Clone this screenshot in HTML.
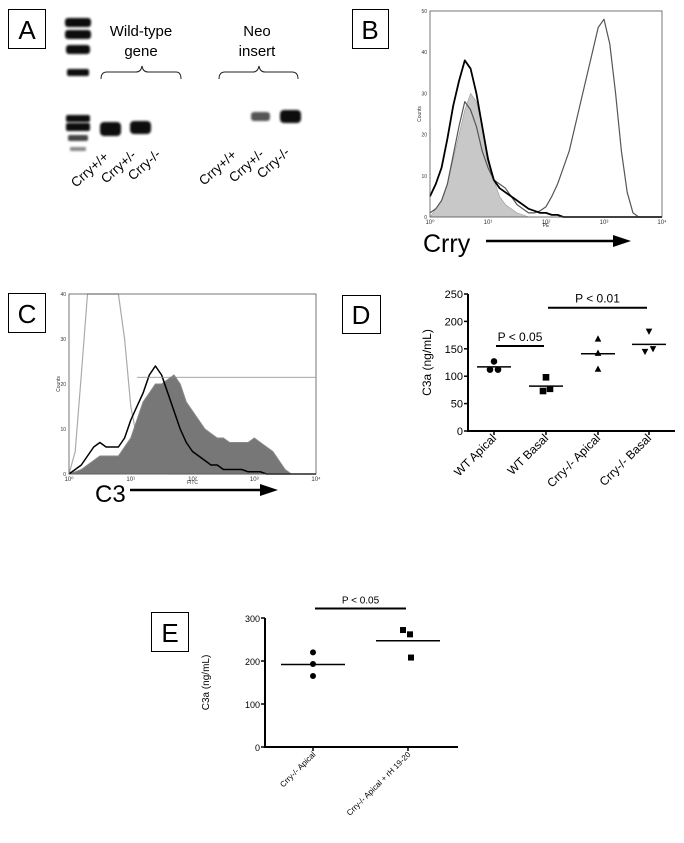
<!DOCTYPE html>
<html><head><meta charset="utf-8"><style>html,body{margin:0;padding:0;background:#fff}svg{display:block}text{font-family:"Liberation Sans",Arial,sans-serif}</style></head>
<body>
<svg id="fig" width="684" height="843" viewBox="0 0 684 843" xmlns="http://www.w3.org/2000/svg">
<defs><filter id="blur" x="-50%" y="-50%" width="200%" height="200%"><feGaussianBlur stdDeviation="1.1"/></filter></defs>
<!-- Panel A -->
<g>
<rect x="8.5" y="9.5" width="37" height="39" fill="#fff" stroke="#000"/>
<text x="27" y="39" font-size="26" text-anchor="middle">A</text>
<g filter="url(#blur)" fill="#111">
<rect x="65" y="18" width="26" height="9" rx="3"/><rect x="65" y="30" width="26" height="9" rx="3"/><rect x="66" y="45" width="24" height="9" rx="3"/><rect x="67" y="69" width="22" height="7" rx="2"/>
<rect x="66" y="115" width="24" height="7" rx="2"/><rect x="66" y="123" width="24" height="8" rx="2"/><rect x="68" y="135" width="20" height="6" rx="2" fill="#444"/><rect x="70" y="147" width="16" height="4" rx="1" fill="#888"/>
<rect x="100" y="122" width="21" height="14" rx="4"/><rect x="130" y="121" width="21" height="13" rx="4"/>
<rect x="251" y="112" width="19" height="9" rx="3" fill="#555"/><rect x="280" y="110" width="21" height="13" rx="4"/>
</g>
<text x="141" y="36" font-size="15" text-anchor="middle">Wild-type</text>
<text x="141" y="56" font-size="15" text-anchor="middle">gene</text>
<text x="257" y="36" font-size="15" text-anchor="middle">Neo</text>
<text x="257" y="56" font-size="15" text-anchor="middle">insert</text>
<path d="M101,79 Q101,72 107,72 L136,72 Q141,72 142,66 Q143,72 148,72 L176,72 Q181,72 181,79" fill="none" stroke="#222"/>
<path d="M219,79 Q219,72 225,72 L253,72 Q258,72 259,66 Q260,72 265,72 L292,72 Q298,72 298,79" fill="none" stroke="#222"/>
<g font-size="13.5">
<text transform="translate(76,188) rotate(-42)">Crry+/+</text>
<text transform="translate(106,184) rotate(-42)">Crry+/-</text>
<text transform="translate(133,181) rotate(-42)">Crry-/-</text>
<text transform="translate(204,186) rotate(-42)">Crry+/+</text>
<text transform="translate(234,183) rotate(-42)">Crry+/-</text>
<text transform="translate(262,179) rotate(-42)">Crry-/-</text>
</g>
</g>
<!-- Panel B -->
<g>
<rect x="352.5" y="9.5" width="36" height="39" fill="#fff" stroke="#000"/>
<text x="370" y="39" font-size="26" text-anchor="middle">B</text>
<g id="histB"></g>
<text x="423" y="252" font-size="25">Crry</text>
<line x1="486" y1="241" x2="615" y2="241" stroke="#000" stroke-width="2.5"/>
<polygon points="613,235 631,241 613,247" fill="#000"/>
</g>
<!-- Panel C -->
<g>
<rect x="8.5" y="293.5" width="37" height="39" fill="#fff" stroke="#000"/>
<text x="27" y="323" font-size="26" text-anchor="middle">C</text>
<g id="histC"></g>
<text x="95" y="502" font-size="24">C3</text>
<line x1="130" y1="490" x2="262" y2="490" stroke="#000" stroke-width="2.5"/>
<polygon points="260,484 278,490 260,496" fill="#000"/>
</g>
<!-- Panel D -->
<g>
<rect x="342.5" y="295.5" width="38" height="38" fill="#fff" stroke="#000"/>
<text x="361" y="324" font-size="26" text-anchor="middle">D</text>
<g id="chartD"></g>
</g>
<!-- Panel E -->
<g>
<rect x="151.5" y="612.5" width="37" height="39" fill="#fff" stroke="#000"/>
<text x="170" y="642" font-size="26" text-anchor="middle">E</text>
<g id="chartE"></g>
</g>
</svg>
<script>
var NS="http://www.w3.org/2000/svg";
// ---- Panel B data (log10 decade step 0.1 from 0 to 4; counts) ----
var bIsotype=[0,2,4,8,14,20,26,30,28,22,15,9,5,3,2,1,0.5,0,0,0,0,0,0,0,0,0,0,0,0,0,0,0,0,0,0,0,0,0,0,0,0];
var bBlack=[5,8,12,19,27,33,38,36,30,22,14,9,7,6,5,4,3,2,1.5,1,1,0.5,0.5,0,0,0,0,0,0,0,0,0,0,0,0,0,0,0,0,0,0];
var bStained=[1,2,4,8,15,22,28,26,22,16,12,9,8,7,5,3,2,1,1,1.5,2.5,5,8,12,16,22,28,34,40,46,48,42,30,16,6,1,0,0,0,0,0];
var bYTicks=[0,10,20,30,40,50];
var bXTicks=["10⁰","10¹","10²","10³","10⁴"];
// ---- Panel C data ----
var cControl=[0,5,22,40,40,40,40,40,40,30,15,8,5,3,2,1,0,0,0,0,0,0,0,0,0,0,0,0,0,0,0,0,0,0,0,0,0,0,0,0,0];
var cBlack=[0,1,2,4,6,7,6,6,6,8,12,15,18,22,24,22,18,14,10,7,5,4,3,2,2,1,1,1,1,0.5,0.5,0.5,0,0,0,0,0,0,0,0,0];
var cStained=[0,0.5,1,2,3,4,4,4,4,6,8,12,16,18,20,20,21,22,20,16,14,12,10,9,8,8,7,7,7,7,8,7,6,5,3,1,0,0,0,0,0];
var cYTicks=[0,10,20,30,40];
var cXTicks=["10⁰","10¹","10²","10³","10⁴"];
var cGateLevel=21.5;
// ---- Panel D data ----
var dCategories=["WT Apical","WT Basal","Crry-/- Apical","Crry-/- Basal"];
var dValues=[[127,112,112],[98,73,77],[168,142,113],[182,145,150]];
var dMeans=[117,82,141,158];
var dMarkers=["circle","square","triangle","triangle-down"];
var dYTicks=[0,50,100,150,200,250];
// ---- Panel E data ----
var eCategories=["Crry-/- Apical","Crry-/- Apical + rH 19-20"];
var eValues=[[220,193,165],[272,262,208]];
var eMeans=[192,247];
var eMarkers=["circle","square"];
var eYTicks=[0,100,200,300];

function el(tag,attrs,parent){var e=document.createElementNS(NS,tag);for(var k in attrs)e.setAttribute(k,attrs[k]);if(parent)parent.appendChild(e);return e;}

function histogram(g,cfg){
  var sx=function(l){return cfg.x0+l*(cfg.x1-cfg.x0)/4;};
  var sy=function(c){return cfg.y0-Math.min(c,cfg.ymax)*(cfg.y0-cfg.y1)/cfg.ymax;};
  cfg.series.forEach(function(s){
    var pts=[];
    for(var i=0;i<s.data.length;i++){pts.push(sx(i*0.1).toFixed(1)+","+sy(s.data[i]).toFixed(1));}
    var p;
    if(s.fill){p=el("polygon",{points:sx(0)+","+sy(0)+" "+pts.join(" ")+" "+sx(4)+","+sy(0),fill:s.fill,stroke:s.stroke,"stroke-width":s.sw},g);}
    else{p=el("polyline",{points:pts.join(" "),fill:"none",stroke:s.stroke,"stroke-width":s.sw,"stroke-linejoin":"round"},g);}
    
    
  });
  var fr=el("rect",{x:cfg.x0,y:cfg.y1,width:cfg.x1-cfg.x0,height:cfg.y0-cfg.y1,fill:"none",stroke:"#555","stroke-width":0.8},g);
  
  
  cfg.yTicks.forEach(function(v){
    var t=el("text",{x:cfg.x0-3,y:sy(v)+2,"font-size":5,"text-anchor":"end",fill:"#333"},g);t.textContent=v;
    
    
  });
  cfg.xTicks.forEach(function(v,i){
    var t=el("text",{x:sx(i),y:cfg.y0+7,"font-size":6,"text-anchor":"middle",fill:"#333"},g);t.textContent=v;
    
    
  });
  var xl=el("text",{x:sx(2),y:cfg.y0+10,"font-size":5,"text-anchor":"middle",fill:"#333"},g);xl.textContent=cfg.xTitle;
  
  
  var yl=el("text",{transform:"translate("+(cfg.x0-9)+","+((cfg.y0+cfg.y1)/2)+") rotate(-90)","font-size":5,"text-anchor":"middle",fill:"#333"},g);yl.textContent="Counts";
  
  
  return {sx:sx,sy:sy};
}

var gB=document.getElementById("histB");
histogram(gB,{x0:430,x1:662,y0:217,y1:11,ymax:50,prefix:"b",xTitle:"PE",yTicks:bYTicks,xTicks:bXTicks,series:[
  {data:bIsotype,fill:"#c8c8c8",stroke:"#999",sw:0.6,name:"isotype-histogram"},
  {data:bStained,stroke:"#555",sw:1.2,name:"crry-stained-histogram"},
  {data:bBlack,stroke:"#000",sw:1.8,name:"black-histogram"}]});

var gC=document.getElementById("histC");
var cs=histogram(gC,{x0:69,x1:316,y0:474,y1:294,ymax:40,prefix:"c",xTitle:"FITC",yTicks:cYTicks,xTicks:cXTicks,series:[
  {data:cControl,stroke:"#aaa",sw:1.2,name:"control-histogram"},
  {data:cStained,fill:"#777",stroke:"#888",sw:1,name:"c3-stained-histogram"},
  {data:cBlack,stroke:"#000",sw:1.5,name:"black-histogram"}]});
var gate=el("line",{x1:cs.sx(1.1),x2:cs.sx(4),y1:cs.sy(cGateLevel),y2:cs.sy(cGateLevel),stroke:"#888","stroke-width":0.8},gC);



function marker(g,type,x,y,r){
  var m;
  if(type==="circle")m=el("circle",{cx:x,cy:y,r:r,fill:"#000"},g);
  else if(type==="square")m=el("rect",{x:x-r,y:y-r,width:2*r,height:2*r,fill:"#000"},g);
  else if(type==="triangle")m=el("polygon",{points:(x-r)+","+(y+r*0.8)+" "+(x+r)+","+(y+r*0.8)+" "+x+","+(y-r*1.1),fill:"#000"},g);
  else m=el("polygon",{points:(x-r)+","+(y-r*0.8)+" "+(x+r)+","+(y-r*0.8)+" "+x+","+(y+r*1.1),fill:"#000"},g);
  return m;
}

function scatter(g,cfg){
  var sy=function(v){return cfg.y0-v*(cfg.y0-cfg.y1)/cfg.ymax;};
  var sx=function(i){return cfg.cx[i];};
  var ax=el("path",{d:"M"+cfg.x0+","+cfg.y1+" L"+cfg.x0+","+cfg.y0+" L"+cfg.xEnd+","+cfg.y0,fill:"none",stroke:"#000","stroke-width":2},g);
  
  
  cfg.yTicks.forEach(function(v){
    var tk=el("line",{x1:cfg.x0-4,x2:cfg.x0,y1:sy(v),y2:sy(v),stroke:"#000","stroke-width":1.5},g);
    
    
    var t=el("text",{x:cfg.x0-5,y:sy(v)+4,"font-size":cfg.fs,"text-anchor":"end"},g);t.textContent=v;
    
    
  });
  cfg.cats.forEach(function(c,i){
    var x=sx(i);
    var tk=el("line",{x1:x,x2:x,y1:cfg.y0,y2:cfg.y0+4,stroke:"#000","stroke-width":1.5},g);
    
    
    var t=el("text",{transform:"translate("+(x+3)+","+(cfg.y0+8)+") rotate(-45)","font-size":cfg.lfs,"text-anchor":"end"},g);t.textContent=c;
    
    
    var mn=el("line",{x1:x-cfg.mw,x2:x+cfg.mw,y1:sy(cfg.means[i]),y2:sy(cfg.means[i]),stroke:"#000","stroke-width":1.5},g);
    
    
    var vals=cfg.values[i];
    var offs=cfg.offsets[i];
    vals.forEach(function(v,j){
      var m=marker(g,cfg.markers[i],x+offs[j],sy(v),cfg.r);
      
      
    });
  });
  var yl=el("text",{transform:"translate("+cfg.ylx+","+((cfg.y0+cfg.y1)/2)+") rotate(-90)","font-size":cfg.fs+1,"text-anchor":"middle"},g);yl.textContent="C3a (ng/mL)";
  
  
  cfg.sig.forEach(function(s){
    var ln=el("line",{x1:sx(s.a)-cfg.sigPad,x2:sx(s.b)+cfg.sigPad,y1:sy(s.y),y2:sy(s.y),stroke:"#000","stroke-width":2},g);
    
    
    var t=el("text",{x:(sx(s.a)+sx(s.b))/2,y:sy(s.y)-5,"font-size":cfg.fs+1,"text-anchor":"middle"},g);t.textContent=s.label;
    
    
  });
}

scatter(document.getElementById("chartD"),{prefix:"d",x0:468,xEnd:675,y0:431,y1:294,ymax:250,cx:[494,546,598,649],
  cats:dCategories,values:dValues,means:dMeans,markers:dMarkers,yTicks:dYTicks,fs:11,lfs:12,r:3.3,mw:17,
  offsets:[[0,-4,4],[0,-3,4],[0,0,0],[0,-4,4]],ylx:431,
  sig:[{a:0,b:1,y:155,label:"P < 0.05"},{a:1,b:3,y:225,label:"P < 0.01"}],sigPad:-2});

scatter(document.getElementById("chartE"),{prefix:"e",x0:265,xEnd:458,y0:747,y1:618,ymax:300,cx:[313,408],
  cats:eCategories,values:eValues,means:eMeans,markers:eMarkers,yTicks:eYTicks,fs:9,lfs:8,r:3,mw:32,
  offsets:[[0,0,0],[-5,2,3]],ylx:209,
  sig:[{a:0,b:1,y:322,label:"P < 0.05"}],sigPad:-2});
</script>
</body></html>
